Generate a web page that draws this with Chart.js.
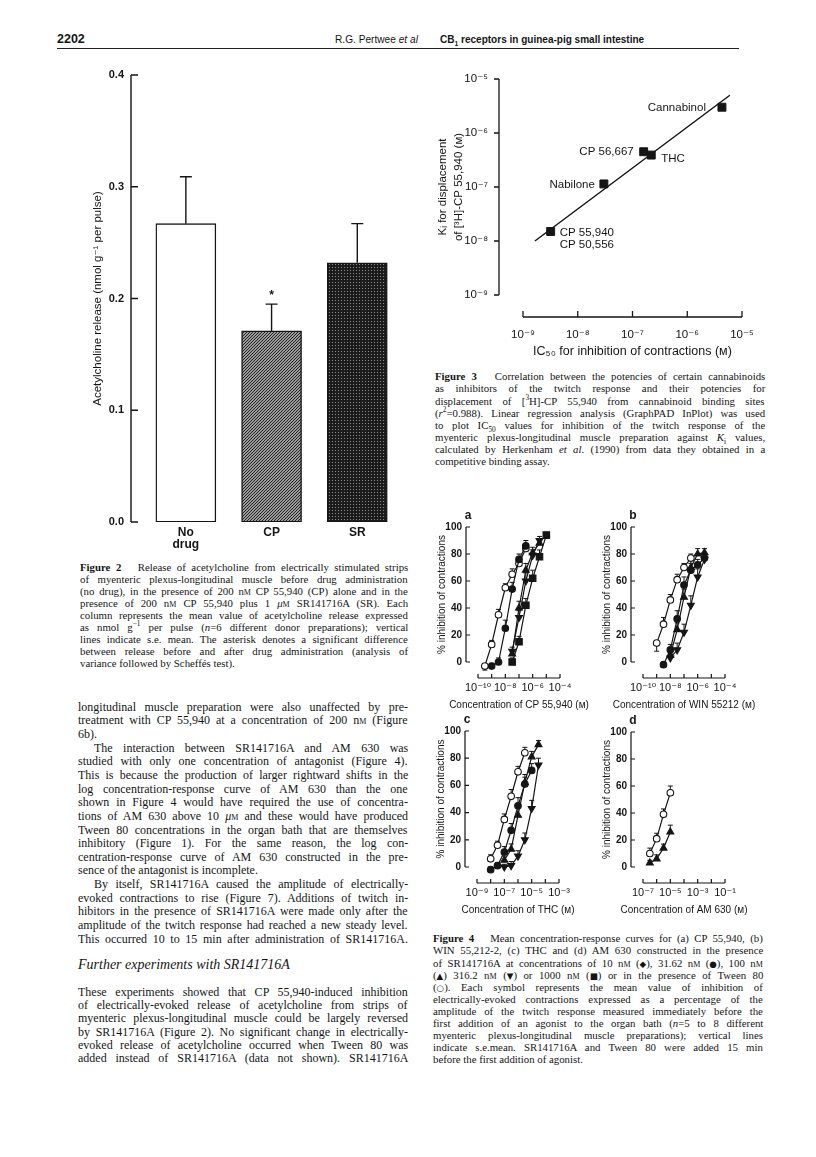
<!DOCTYPE html>
<html>
<head>
<meta charset="utf-8">
<title>Pertwee et al - p. 2202</title>
<script src="https://cdn.jsdelivr.net/npm/chart.js@4.4.1/dist/chart.umd.min.js"></script>
<style>
  html, body { margin: 0; padding: 0; background: #fff; }
  body { position: relative; width: 816px; height: 1157px; overflow: hidden; color: #151515;
         font-family: "Liberation Serif", "Times New Roman", serif; }
  canvas { position: absolute; }
  .ln { position: absolute; white-space: nowrap; line-height: 1; transform-origin: 0 0; }
  .sans { font-family: "Liberation Sans", Arial, sans-serif; }
  .sc { font-variant: small-caps; }
  .sym { font-family: "DejaVu Sans", sans-serif; font-size: 80%; }
  sup, sub { font-size: 68%; line-height: 0; }
  .rule { position: absolute; height: 0; border-top: 1.4px solid #222; }
</style>
</head>
<body>
<div class="rule" style="left:57px; top:48px; width:682px;"></div>

<script>
// --- Figure 2 data ---
const fig2Cats = [['No', 'drug'], 'CP', 'SR'];
const fig2Mean = [0.267, 0.171, 0.232];
const fig2Sem = [0.042, 0.024, 0.035];
const fig2Star = ['', '*', ''];
const fig2YTicks = [0, 0.1, 0.2, 0.3, 0.4];

// --- Figure 3 data (M) ---
const fig3Names = ['Cannabinol', 'CP 56,667', 'THC', 'Nabilone', ['CP 55,940', 'CP 50,556']];
const fig3IC50 = [4.3e-6, 1.6e-7, 2.2e-7, 3.0e-8, 3.2e-9];
const fig3Ki = [3.0e-6, 4.5e-7, 3.9e-7, 1.14e-7, 1.5e-8];
const fig3FitX = [1.65e-9, 6.0e-6];
const fig3FitY = [1.0e-8, 5.0e-6];
const fig3XTicks = [1e-9, 1e-8, 1e-7, 1e-6, 1e-5];
const fig3YTicks = [1e-9, 1e-8, 1e-7, 1e-6, 1e-5];

// --- Figure 4 data: x = log10 concentration (M), y = % inhibition, e = s.e.mean ---
const pctTicks = [0, 20, 40, 60, 80, 100];

// (a) CP 55,940
const aOpenX = [-9.5, -9, -8.5, -8, -7.5, -7, -6.5];
const aOpenY = [-3, 13, 35, 55, 65, 73, 84];
const aOpenE = [-3, 3, 4, 3, 4, 4, 3];
const aCircX = [-9, -8.5, -8, -7.5, -7, -6.5];
const aCircY = [-3, 0, 25, 54, 76, 86];
const aCircE = [2, 3, 6, 5, 4, 4];
const aUpX = [-7.5, -7, -6.5, -6, -5.5];
const aUpY = [6, 40, 68, 81, 88];
const aUpE = [3, 5, 5, 4, 3];
const aDownX = [-7.5, -7, -6.5, -6, -5.5];
const aDownY = [8, 33, 60, 79, 90];
const aDownE = [3, 5, 6, 4, 3];
const aSqX = [-7.5, -7, -6.5, -6, -5.5, -5];
const aSqY = [0, 15, 42, 62, 78, 94];
const aSqE = [3, 4, 5, 6, 5, 2];
const aXTicks = [-10, -8, -6, -4];

// (b) WIN 55212
const bOpenX = [-9, -8.5, -8, -7.5, -7, -6.5];
const bOpenY = [14, 28, 46, 61, 70, 77];
const bOpenE = [-6, 5, 4, 4, 3, 3];
const bCircX = [-8.5, -8, -7.5, -7, -6.5, -6, -5.5];
const bCircY = [-2, 9, 32, 57, 68, 72, 77];
const bCircE = [2, 4, 6, 6, 5, 4, 4];
const bUpX = [-8, -7.5, -7, -6.5, -6, -5.5];
const bUpY = [5, 24, 48, 70, 80, 81];
const bUpE = [3, 5, 6, 5, 4, 3];
const bDownX = [-8, -7.5, -7, -6.5, -6, -5.5];
const bDownY = [3, 9, 22, 42, 63, 76];
const bDownE = [3, 5, 6, 7, 6, 5];
const bXTicks = [-10, -8, -6, -4];

// (c) THC
const cOpenX = [-8, -7.5, -7, -6.5, -6, -5.5];
const cOpenY = [6, 16, 35, 52, 70, 84];
const cOpenE = [3, 3, 4, 5, 4, 4];
const cCircX = [-8, -7.5, -7, -6.5, -6, -5.5, -5];
const cCircY = [-2, 1, 11, 27, 45, 61, 71];
const cCircE = [2, 2, 4, 5, 6, 5, 5];
const cUpX = [-7, -6.5, -6, -5.5, -5, -4.5];
const cUpY = [5, 13, 38, 62, 81, 90];
const cUpE = [3, 4, 7, 6, 4, 3];
const cDownX = [-7, -6.5, -6, -5.5, -5, -4.5];
const cDownY = [0, 1, 8, 20, 43, 75];
const cDownE = [2, 3, 4, 5, 6, 5];
const cXTicks = [-9, -7, -5, -3];

// (d) AM 630
const dOpenX = [-6.5, -6, -5.5, -5];
const dOpenY = [10, 21, 39, 55];
const dOpenE = [4, 4, 4, 5];
const dUpX = [-6.5, -6, -5.5, -5];
const dUpY = [3, 6, 14, 26];
const dUpE = [2, 3, 3, 5];
const dXTicks = [-7, -5, -3, -1];

// --- page text ---
const headerBits = [
    { html: '<b>2202</b>', x: 57, size: 12.5, w: 0 },
    { html: 'R.G. Pertwee <i>et al</i>', x: 335, size: 11, w: 83 },
    { html: '<b>CB<sub>1</sub> receptors in guinea-pig small intestine</b>', x: 440, size: 11, w: 204 }
];

const fig2Caption = [
    '<b>Figure 2</b>&nbsp;&nbsp; Release of acetylcholine from electrically stimulated strips',
    'of myenteric plexus-longitudinal muscle before drug administration',
    '(no drug), in the presence of 200 n<span class="sc">m</span> CP 55,940 (CP) alone and in the',
    'presence of 200 n<span class="sc">m</span> CP 55,940 plus 1 <i>μ</i><span class="sc">m</span> SR141716A (SR). Each',
    'column represents the mean value of acetylcholine release expressed',
    'as nmol g<sup>−1</sup> per pulse (<i>n</i>=6 different donor preparations); vertical',
    'lines indicate s.e. mean. The asterisk denotes a significant difference',
    'between release before and after drug administration (analysis of',
    'variance followed by Scheffés test).|'
];

const fig3Caption = [
    '<b>Figure 3</b>&nbsp;&nbsp; Correlation between the potencies of certain cannabinoids',
    'as inhibitors of the twitch response and their potencies for',
    'displacement of [<sup>3</sup>H]-CP 55,940 from cannabinoid binding sites',
    '(<i>r</i><sup>2</sup>=0.988). Linear regression analysis (GraphPAD InPlot) was used',
    'to plot IC<sub>50</sub> values for inhibition of the twitch response of the',
    'myenteric plexus-longitudinal muscle preparation against <i>K</i><sub>i</sub> values,',
    'calculated by Herkenham <i>et al</i>. (1990) from data they obtained in a',
    'competitive binding assay.|'
];

const fig4Caption = [
    '<b>Figure 4</b>&nbsp;&nbsp; Mean concentration-response curves for (a) CP 55,940, (b)',
    'WIN 55,212-2, (c) THC and (d) AM 630 constructed in the presence',
    'of SR141716A at concentrations of 10 n<span class="sc">m</span> (<span class="sym">◆</span>), 31.62 n<span class="sc">m</span> (<span class="sym">●</span>), 100 n<span class="sc">m</span>',
    '(<span class="sym">▲</span>) 316.2 n<span class="sc">m</span> (<span class="sym">▼</span>) or 1000 n<span class="sc">m</span> (<span class="sym">■</span>) or in the presence of Tween 80',
    '(<span class="sym">○</span>). Each symbol represents the mean value of inhibition of',
    'electrically-evoked contractions expressed as a percentage of the',
    'amplitude of the twitch response measured immediately before the',
    'first addition of an agonist to the organ bath (<i>n</i>=5 to 8 different',
    'myenteric plexus-longitudinal muscle preparations); vertical lines',
    'indicate s.e.mean. SR141716A and Tween 80 were added 15 min',
    'before the first addition of agonist.|'
];

const bodyText = [
    'longitudinal muscle preparation were also unaffected by pre-',
    'treatment with CP 55,940 at a concentration of 200 n<span class="sc">m</span> (Figure',
    '6b).|',
    '>The interaction between SR141716A and AM 630 was',
    'studied with only one concentration of antagonist (Figure 4).',
    'This is because the production of larger rightward shifts in the',
    'log concentration-response curve of AM 630 than the one',
    'shown in Figure 4 would have required the use of concentra-',
    'tions of AM 630 above 10 <i>μ</i><span class="sc">m</span> and these would have produced',
    'Tween 80 concentrations in the organ bath that are themselves',
    'inhibitory (Figure 1). For the same reason, the log con-',
    'centration-response curve of AM 630 constructed in the pre-',
    'sence of the antagonist is incomplete.|',
    '>By itself, SR141716A caused the amplitude of electrically-',
    'evoked contractions to rise (Figure 7). Additions of twitch in-',
    'hibitors in the presence of SR141716A were made only after the',
    'amplitude of the twitch response had reached a new steady level.',
    'This occurred 10 to 15 min after administration of SR141716A.'
];

const bodyText2 = [
    'These experiments showed that CP 55,940-induced inhibition',
    'of electrically-evoked release of acetylcholine from strips of',
    'myenteric plexus-longitudinal muscle could be largely reversed',
    'by SR141716A (Figure 2). No significant change in electrically-',
    'evoked release of acetylcholine occurred when Tween 80 was',
    'added instead of SR141716A (data not shown). SR141716A'
];

// --- text helpers ---
function placeLines(lines, x, y0, dy, w, size, cls) {
    lines.forEach((raw, i) => {
        let html = raw, indent = 0, last = false;
        if (html.startsWith('>')) { indent = 16; html = html.slice(1); }
        if (html.endsWith('|')) { last = true; html = html.slice(0, -1); }
        const d = document.createElement('div');
        d.className = 'ln ' + (cls || '');
        d.style.left = (x + indent) + 'px';
        d.style.top = (y0 + i * dy - size * 0.62) + 'px';
        d.style.fontSize = size + 'px';
        d.innerHTML = html;
        document.body.appendChild(d);
        const nat = d.offsetWidth, tw = w - indent;
        if (nat > tw) {
            d.style.transform = 'scaleX(' + (tw / nat) + ')';
        } else if (!last) {
            const n = (d.textContent.match(/[ \u00a0]/g) || []).length;
            if (n) d.style.wordSpacing = ((tw - nat) / n) + 'px';
        }
    });
}

headerBits.forEach(h => {
    const d = document.createElement('div');
    d.className = 'ln sans';
    d.style.left = h.x + 'px';
    d.style.top = (41 - h.size * 0.62) + 'px';
    d.style.fontSize = h.size + 'px';
    d.innerHTML = h.html;
    document.body.appendChild(d);
    if (h.w) d.style.transform = 'scaleX(' + (h.w / d.offsetWidth) + ')';
});

placeLines(fig2Caption, 80, 569, 11.9, 328, 10.8);
placeLines(fig3Caption, 435, 378, 12.1, 330, 10.8);
placeLines(fig4Caption, 433, 940, 12.1, 330, 10.8);
placeLines(bodyText, 78, 708.3, 13.63, 330, 12);
placeLines(['<i>Further experiments with SR141716A</i>|'], 78, 966.7, 0, 330, 14);
placeLines(bodyText2, 78, 993.3, 13.3, 330, 12);

// --- Chart.js common setup ---
const ink = '#151515';
const sansFam = '"Liberation Sans", Arial, "DejaVu Sans", sans-serif';
Chart.defaults.font.family = sansFam;
Chart.defaults.color = ink;
Chart.defaults.animation = false;
Chart.defaults.events = [];
Chart.defaults.plugins.legend.display = false;
Chart.defaults.plugins.tooltip.enabled = false;

const SUP = { '-': '⁻', '0': '⁰', '1': '¹', '2': '²', '3': '³', '4': '⁴', '5': '⁵', '6': '⁶', '7': '⁷', '8': '⁸', '9': '⁹' };
function pow10(e) {
    return '10' + String(e).split('').map(c => SUP[c]).join('');
}
function decades(a, b) {
    const t = [];
    for (let v = a; v <= b; v++) t.push(v);
    return t;
}
const noGrid = { display: false, drawTicks: false };

// detached axis lines with their own tick marks
const paperAxes = {
    id: 'paperAxes',
    afterDraw(chart, args, opts) {
        const { ctx, chartArea: a, scales } = chart;
        ctx.save();
        ctx.strokeStyle = ink;
        ctx.lineWidth = opts.width || 1.3;
        (opts.axes || []).forEach(ax => {
            const s = scales[ax.scale];
            ctx.beginPath();
            if (s.isHorizontal()) {
                const y = a.bottom + ax.off;
                ctx.moveTo(s.getPixelForValue(ax.from), y);
                ctx.lineTo(s.getPixelForValue(ax.to), y);
                ax.ticks.forEach(v => {
                    const x = s.getPixelForValue(v);
                    ctx.moveTo(x, y);
                    ctx.lineTo(x, y - ax.len);
                });
            } else {
                const x = a.left + ax.off;
                ctx.moveTo(x, s.getPixelForValue(ax.from));
                ctx.lineTo(x, s.getPixelForValue(ax.to));
                ax.ticks.forEach(v => {
                    const y = s.getPixelForValue(v);
                    ctx.moveTo(x, y);
                    ctx.lineTo(x + ax.len, y);
                });
            }
            ctx.stroke();
        });
        ctx.restore();
    }
};

// s.e.mean bars, read from dataset.err (negative = drawn downwards)
const errBars = {
    id: 'errBars',
    beforeDatasetsDraw(chart, args, opts) {
        const { ctx } = chart;
        ctx.save();
        ctx.strokeStyle = ink;
        ctx.fillStyle = ink;
        ctx.lineWidth = opts.width || 1.1;
        chart.data.datasets.forEach((ds, i) => {
            if (!ds.err) return;
            const meta = chart.getDatasetMeta(i);
            const ys = chart.scales[meta.yAxisID];
            meta.data.forEach((el, j) => {
                const e = ds.err[j];
                if (!e) return;
                const d = ds.data[j];
                const v = typeof d === 'object' ? d.y : d;
                const y1 = ys.getPixelForValue(v + e);
                ctx.beginPath();
                ctx.moveTo(el.x, el.y);
                ctx.lineTo(el.x, y1);
                ctx.moveTo(el.x - opts.cap, y1);
                ctx.lineTo(el.x + opts.cap, y1);
                ctx.stroke();
                if (ds.marks && ds.marks[j]) {
                    ctx.font = 'bold 12px ' + sansFam;
                    ctx.textAlign = 'center';
                    ctx.textBaseline = 'middle';
                    ctx.fillText(ds.marks[j], el.x, y1 - 8);
                }
            });
        });
        ctx.restore();
    }
};

// compound names beside the squares of figure 3
const pointNames = {
    id: 'pointNames',
    afterDatasetsDraw(chart, args, opts) {
        const { ctx } = chart;
        const meta = chart.getDatasetMeta(0);
        ctx.save();
        ctx.fillStyle = ink;
        ctx.font = '11.5px ' + sansFam;
        ctx.textBaseline = 'middle';
        meta.data.forEach((el, j) => {
            const name = fig3Names[j];
            const lines = Array.isArray(name) ? name : [name];
            const left = opts.side[j] === 'left';
            ctx.textAlign = left ? 'right' : 'left';
            const x = el.x + (left ? -opts.gap[j] : opts.gap[j]);
            lines.forEach((t, k) => ctx.fillText(t, x, el.y + opts.dy[j] + k * 12));
        });
        ctx.restore();
    }
};

// axis titles (and panel letter) placed relative to the plot area
const axisTitles = {
    id: 'axisTitles',
    afterDraw(chart, args, o) {
        const { ctx, chartArea: a } = chart;
        ctx.save();
        ctx.fillStyle = ink;
        ctx.textAlign = 'center';
        ctx.textBaseline = 'middle';
        ctx.font = o.xSize + 'px ' + sansFam;
        ctx.fillText(o.xTitle, (a.left + a.right) / 2, a.bottom + o.xOff);
        ctx.font = o.ySize + 'px ' + sansFam;
        o.yTitles.forEach((t, k) => {
            ctx.save();
            ctx.translate(a.left + o.yOffs[k], (a.top + a.bottom) / 2);
            ctx.rotate(-Math.PI / 2);
            ctx.fillText(t, 0, 0);
            ctx.restore();
        });
        if (o.letter) {
            ctx.font = 'bold 12px ' + sansFam;
            ctx.fillText(o.letter, a.left - 10, a.top - 11);
        }
        ctx.restore();
    }
};

function makeCanvas(f) {
    const c = document.createElement('canvas');
    c.id = f.id;
    c.width = f.w;
    c.height = f.h;
    c.style.left = f.x + 'px';
    c.style.top = f.y + 'px';
    c.style.width = f.w + 'px';
    c.style.height = f.h + 'px';
    document.body.appendChild(c);
    return c;
}

// fixed scale boxes + padding, so the plot area lands exactly on box (page px)
function chartIn(canvas, f, box, yW, xH, cfg) {
    const o = cfg.options;
    o.responsive = false;
    o.maintainAspectRatio = false;
    o.devicePixelRatio = 1;
    o.layout = {
        autoPadding: false,
        padding: {
            left: box.l - f.x - yW,
            top: box.t - f.y,
            right: f.x + f.w - box.r,
            bottom: f.y + f.h - box.b - xH
        }
    };
    o.scales.x.afterFit = s => { s.height = xH; s.paddingLeft = 0; s.paddingRight = 0; };
    o.scales.y.afterFit = s => { s.width = yW; s.paddingTop = 0; s.paddingBottom = 0; };
    return new Chart(canvas, cfg);
}

// --- Figure 2: bar chart ---
function barPattern(ctx, kind) {
    const p = document.createElement('canvas');
    const g = p.getContext('2d');
    if (kind === 'hatch') {
        p.width = p.height = 3;
        g.fillStyle = '#d8d8d8';
        g.fillRect(0, 0, 3, 3);
        g.strokeStyle = '#1a1a1a';
        g.lineWidth = 1.2;
        g.beginPath();
        g.moveTo(-1, 4); g.lineTo(4, -1);
        g.moveTo(-1, 1); g.lineTo(1, -1);
        g.moveTo(2, 4); g.lineTo(4, 2);
        g.stroke();
    } else {
        p.width = p.height = 3;
        g.fillStyle = '#1c1c1c';
        g.fillRect(0, 0, 3, 3);
        g.fillStyle = '#8a8a8a';
        g.fillRect(1, 1, 1, 1);
    }
    return ctx.createPattern(p, 'repeat');
}

const f2 = { id: 'fig2', x: 40, y: 50, w: 380, h: 520 };
const cv2 = makeCanvas(f2);
const ctx2 = cv2.getContext('2d');
chartIn(cv2, f2, { l: 131, t: 75, r: 401, b: 522 }, 40, 30, {
    type: 'bar',
    data: {
        datasets: [{
            data: fig2Mean.map((v, i) => ({ x: i, y: v })),
            backgroundColor: ['#fff', barPattern(ctx2, 'hatch'), barPattern(ctx2, 'dots')],
            borderColor: ink,
            borderWidth: 1.4,
            borderSkipped: false,
            barThickness: 60,
            err: fig2Sem,
            marks: fig2Star
        }]
    },
    options: {
        scales: {
            x: {
                type: 'linear', min: -0.64, max: 2.51, offset: false,
                grid: noGrid, border: { display: false },
                afterBuildTicks: s => { s.ticks = fig2Cats.map((c, i) => ({ value: i })); },
                ticks: {
                    callback: v => fig2Cats[v],
                    font: { size: 12, weight: 'bold', lineHeight: 1 },
                    padding: 5, autoSkip: false, maxRotation: 0
                }
            },
            y: {
                min: 0, max: 0.4,
                grid: noGrid, border: { display: false },
                afterBuildTicks: s => { s.ticks = fig2YTicks.map(v => ({ value: v })); },
                ticks: { callback: v => v.toFixed(1), font: { size: 11, weight: 'bold' }, padding: 7 },
                title: {
                    display: true, text: 'Acetylcholine release (nmol g⁻¹ per pulse)',
                    font: { size: 11.5 }, padding: { top: 0, bottom: 4 }
                }
            }
        },
        plugins: {
            paperAxes: { axes: [{ scale: 'y', off: 0, from: 0, to: 0.4, ticks: fig2YTicks, len: 7 }], width: 1.4 },
            errBars: { cap: 6, width: 1.4 }
        }
    },
    plugins: [paperAxes, errBars]
});

// --- Figure 3: log-log correlation ---
const f3 = { id: 'fig3', x: 420, y: 55, w: 380, h: 320 };
chartIn(makeCanvas(f3), f3, { l: 523, t: 79, r: 742, b: 295 }, 60, 50, {
    type: 'scatter',
    data: {
        datasets: [
            {
                data: fig3IC50.map((x, i) => ({ x: x, y: fig3Ki[i] })),
                pointStyle: 'rect', pointRadius: 5.6,
                backgroundColor: ink, borderColor: ink, order: 0
            },
            {
                data: fig3FitX.map((x, i) => ({ x: x, y: fig3FitY[i] })),
                showLine: true, pointRadius: 0,
                borderColor: ink, borderWidth: 1.5, order: 1
            }
        ]
    },
    options: {
        scales: {
            x: {
                type: 'logarithmic', min: 1e-9, max: 1e-5,
                grid: noGrid, border: { display: false },
                afterBuildTicks: s => { s.ticks = fig3XTicks.map(v => ({ value: v })); },
                ticks: {
                    callback: v => pow10(Math.round(Math.log10(v))),
                    font: { size: 11.5, lineHeight: 1 }, padding: 34, autoSkip: false, maxRotation: 0
                }
            },
            y: {
                type: 'logarithmic', min: 1e-9, max: 1e-5,
                grid: noGrid, border: { display: false },
                afterBuildTicks: s => { s.ticks = fig3YTicks.map(v => ({ value: v })); },
                ticks: {
                    callback: v => pow10(Math.round(Math.log10(v))),
                    font: { size: 11.5 }, padding: 35
                }
            }
        },
        plugins: {
            paperAxes: {
                axes: [
                    { scale: 'y', off: -24, from: 1e-9, to: 1e-5, ticks: fig3YTicks, len: -5 },
                    { scale: 'x', off: 22, from: 1e-9, to: 1e-5, ticks: fig3XTicks, len: 6 }
                ]
            },
            pointNames: {
                side: ['left', 'left', 'right', 'left', 'right'],
                gap: [16, 10, 10, 9, 9],
                dy: [1, 0, 4, 1, 1]
            },
            axisTitles: {
                xTitle: 'IC₅₀ for inhibition of contractions (ᴍ)', xOff: 57, xSize: 12.5,
                yTitles: ['Kᵢ for displacement', 'of [³H]-CP 55,940 (ᴍ)'], yOffs: [-80, -64], ySize: 11.5
            }
        }
    },
    plugins: [paperAxes, pointNames, axisTitles]
});

// --- Figure 4: four concentration-response panels ---
const markers = {
    open: { pointStyle: 'circle', pointRadius: 3.3, pointBackgroundColor: '#fff' },
    circ: { pointStyle: 'circle', pointRadius: 3.3, pointBackgroundColor: ink },
    up: { pointStyle: 'triangle', pointRadius: 4, pointBackgroundColor: ink },
    down: { pointStyle: 'triangle', pointRadius: 4, pointRotation: 180, pointBackgroundColor: ink },
    sq: { pointStyle: 'rect', pointRadius: 4.6, pointBackgroundColor: ink }
};

function panel(f, box, xMin, xMax, xTicks, series, xTitle, letter) {
    return chartIn(makeCanvas(f), f, box, 35, 35, {
        type: 'scatter',
        data: {
            datasets: series.map(s => Object.assign({
                data: s.x.map((x, i) => ({ x: x, y: s.y[i] })),
                err: s.e,
                showLine: true,
                borderColor: ink,
                borderWidth: 1.2,
                pointBorderColor: ink,
                pointBorderWidth: 1.1,
                clip: false
            }, markers[s.m]))
        },
        options: {
            scales: {
                x: {
                    type: 'linear', min: xMin, max: xMax,
                    grid: noGrid, border: { display: false },
                    afterBuildTicks: s => { s.ticks = xTicks.map(v => ({ value: v })); },
                    ticks: {
                        callback: v => pow10(v),
                        font: { size: 11, lineHeight: 1 }, padding: 20, autoSkip: false, maxRotation: 0
                    }
                },
                y: {
                    min: 0, max: 100,
                    grid: noGrid, border: { display: false },
                    afterBuildTicks: s => { s.ticks = pctTicks.map(v => ({ value: v })); },
                    ticks: { font: { size: 10, weight: 'bold' }, padding: 16 }
                }
            },
            plugins: {
                paperAxes: {
                    axes: [
                        { scale: 'y', off: -12, from: 0, to: 100, ticks: pctTicks, len: 4 },
                        { scale: 'x', off: 16, from: xMin, to: xMax, ticks: decades(xMin, xMax), len: 4 }
                    ],
                    width: 1.2
                },
                errBars: { cap: 2.5, width: 1 },
                axisTitles: {
                    letter: letter, xTitle: xTitle, xOff: 43, xSize: 10,
                    yTitles: ['% inhibition of contractions'], yOffs: [-36], ySize: 10
                }
            }
        },
        plugins: [paperAxes, errBars, axisTitles]
    });
}

panel({ id: 'fig4a', x: 420, y: 500, w: 170, h: 220 }, { l: 478, t: 527, r: 560, b: 662 }, -10, -4, aXTicks, [
    { x: aSqX, y: aSqY, e: aSqE, m: 'sq' },
    { x: aDownX, y: aDownY, e: aDownE, m: 'down' },
    { x: aUpX, y: aUpY, e: aUpE, m: 'up' },
    { x: aCircX, y: aCircY, e: aCircE, m: 'circ' },
    { x: aOpenX, y: aOpenY, e: aOpenE, m: 'open' }
], 'Concentration of CP 55,940 (ᴍ)', 'a');

panel({ id: 'fig4b', x: 595, y: 500, w: 170, h: 220 }, { l: 643, t: 527, r: 725, b: 662 }, -10, -4, bXTicks, [
    { x: bDownX, y: bDownY, e: bDownE, m: 'down' },
    { x: bUpX, y: bUpY, e: bUpE, m: 'up' },
    { x: bCircX, y: bCircY, e: bCircE, m: 'circ' },
    { x: bOpenX, y: bOpenY, e: bOpenE, m: 'open' }
], 'Concentration of WIN 55212 (ᴍ)', 'b');

panel({ id: 'fig4c', x: 420, y: 705, w: 170, h: 220 }, { l: 477, t: 731, r: 559, b: 867 }, -9, -3, cXTicks, [
    { x: cDownX, y: cDownY, e: cDownE, m: 'down' },
    { x: cUpX, y: cUpY, e: cUpE, m: 'up' },
    { x: cCircX, y: cCircY, e: cCircE, m: 'circ' },
    { x: cOpenX, y: cOpenY, e: cOpenE, m: 'open' }
], 'Concentration of THC (ᴍ)', 'c');

panel({ id: 'fig4d', x: 595, y: 705, w: 170, h: 220 }, { l: 643, t: 732, r: 725, b: 867 }, -7, -1, dXTicks, [
    { x: dUpX, y: dUpY, e: dUpE, m: 'up' },
    { x: dOpenX, y: dOpenY, e: dOpenE, m: 'open' }
], 'Concentration of AM 630 (ᴍ)', 'd');
</script>
</body>
</html>
